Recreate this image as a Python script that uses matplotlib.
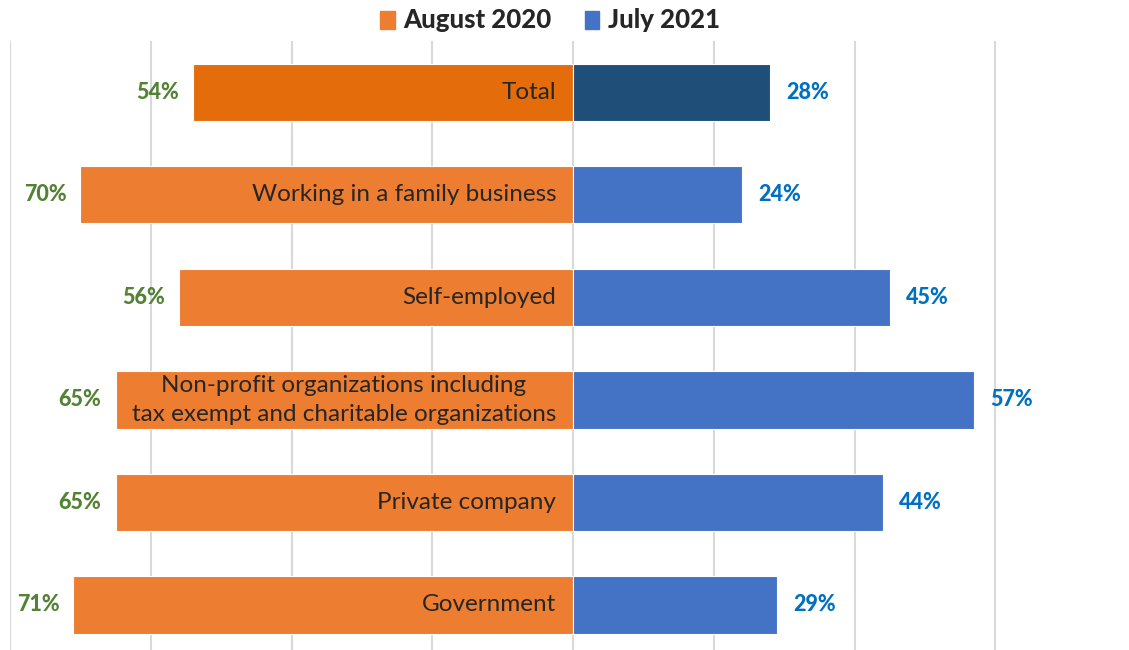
import matplotlib.pyplot as plt
from matplotlib.patches import Rectangle

categories = ["Total", "Working in a family business", "Self-employed",
              "Non-profit organizations including\ntax exempt and charitable organizations",
              "Private company", "Government"]
aug_2020 = [54, 70, 56, 65, 65, 71]
jul_2021 = [28, 24, 45, 57, 44, 29]

orange = "#ED7D31"
orange_total = "#E46C0A"
blue = "#4472C4"
blue_total = "#1F4E79"

plt.rcParams['font.family'] = ['Lato', 'DejaVu Sans']

fig = plt.figure(figsize=(11.29, 6.5), dpi=100)
ax = fig.add_axes([10 / 1129, 0, 1119 / 1129, 609 / 650])

y = list(range(len(categories)))
left_colors = [orange_total] + [orange] * (len(categories) - 1)
right_colors = [blue_total] + [blue] * (len(categories) - 1)

ax.barh(y, [-v for v in aug_2020], height=0.56, color=left_colors,
        edgecolor="white", linewidth=0.8, zorder=2)
ax.barh(y, jul_2021, height=0.56, color=right_colors,
        edgecolor="white", linewidth=0.8, zorder=2)

for i, (a, b, cat) in enumerate(zip(aug_2020, jul_2021, categories)):
    ax.text(-a - 2, i, f"{a}%", ha="right", va="center", fontsize=15.5,
            fontweight="black", color="#548235")
    ax.text(b + 2.3, i, f"{b}%", ha="left", va="center", fontsize=15.5,
            fontweight="black", color="#0070C0")
    ax.text(-2.4, i, cat, ha="right", va="center", fontsize=17.5,
            color="#262626", multialignment="center", linespacing=1.5, zorder=3)

ax.set_xlim(-80, 79)
ax.set_ylim(5.44, -0.5)
ax.set_xticks(range(-80, 80, 20))
ax.set_yticks([])
ax.tick_params(axis="x", length=0, labelbottom=False)
ax.grid(axis="x", color="#D9D9D9", linewidth=1.5, zorder=0)
for s in ax.spines.values():
    s.set_visible(False)

# legend
fig.patches.append(Rectangle((380 / 1129, 1 - 29 / 650), 15 / 1129, 18 / 650,
                             transform=fig.transFigure, color=orange))
fig.text(403 / 1129, 1 - 20 / 650, "August 2020", ha="left", va="center",
         fontsize=18.5, fontweight="black", color="#262626")
fig.patches.append(Rectangle((585 / 1129, 1 - 29 / 650), 14 / 1129, 18 / 650,
                             transform=fig.transFigure, color=blue))
fig.text(608 / 1129, 1 - 20 / 650, "July 2021", ha="left", va="center",
         fontsize=18.5, fontweight="black", color="#262626")

fig.savefig("out.png", dpi=100)
